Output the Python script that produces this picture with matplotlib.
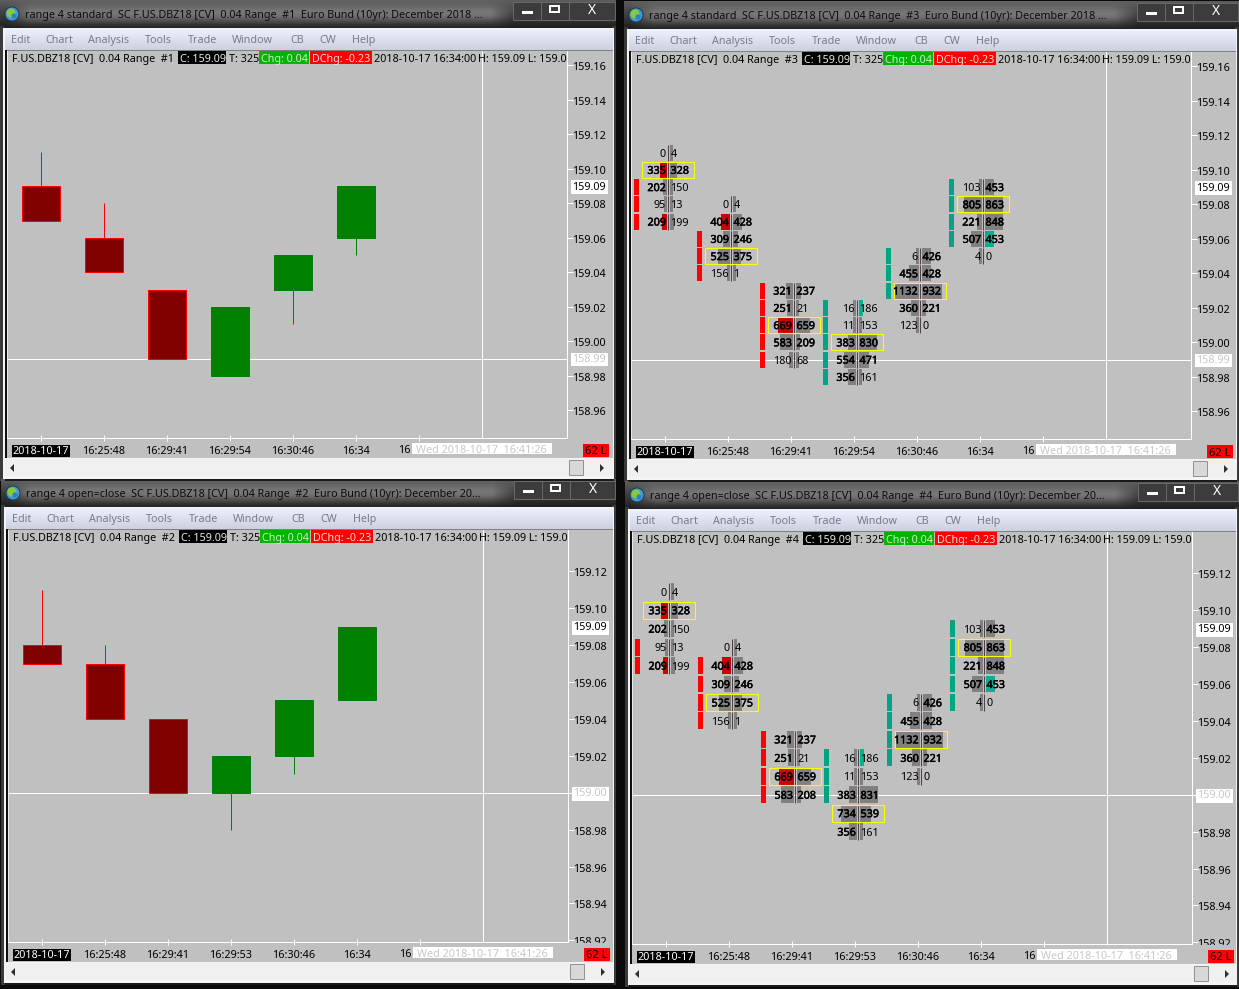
#!/usr/bin/python
# four Sierra Chart windows: range bars on the left, footprint bars on the right
import numpy as np
import matplotlib
matplotlib.use('Agg')
import matplotlib.pyplot as plt
from matplotlib.patches import Rectangle, Circle
from matplotlib.transforms import ScaledTranslation
import matplotlib.patheffects as pe

W, H = 1239, 989
FONT = 'Noto Sans'
FS = 7.75

# OHLC of the 6 range bars, "standard" and "open=close" versions
std_open = [159.09, 159.06, 159.03, 158.98, 159.03, 159.06]
std_high = [159.11, 159.08, 159.03, 159.02, 159.05, 159.09]
std_low = [159.07, 159.04, 158.99, 158.98, 159.01, 159.05]
std_close = [159.07, 159.04, 158.99, 159.02, 159.05, 159.09]

oc_open = [159.08, 159.07, 159.04, 159.00, 159.02, 159.05]
oc_high = [159.11, 159.08, 159.04, 159.02, 159.05, 159.09]
oc_low = [159.07, 159.04, 159.00, 158.98, 159.01, 159.05]
oc_close = [159.07, 159.04, 159.00, 159.02, 159.05, 159.09]

# footprint rows per bar, standard window
std_prices = [[159.11, 159.10, 159.09, 159.08, 159.07],
              [159.08, 159.07, 159.06, 159.05, 159.04],
              [159.03, 159.02, 159.01, 159.00, 158.99],
              [159.02, 159.01, 159.00, 158.99, 158.98],
              [159.05, 159.04, 159.03, 159.02, 159.01],
              [159.09, 159.08, 159.07, 159.06, 159.05]]
std_bid = [[0, 335, 202, 95, 209],
           [0, 404, 309, 525, 156],
           [321, 251, 669, 583, 180],
           [16, 11, 383, 554, 356],
           [6, 455, 1132, 360, 123],
           [103, 805, 221, 507, 4]]
std_ask = [[4, 328, 150, 13, 199],
           [4, 428, 246, 375, 1],
           [237, 21, 659, 209, 68],
           [186, 153, 830, 471, 161],
           [426, 428, 932, 221, 0],
           [453, 863, 848, 453, 0]]

# footprint rows per bar, open=close window
oc_prices = [[159.11, 159.10, 159.09, 159.08, 159.07],
             [159.08, 159.07, 159.06, 159.05, 159.04],
             [159.03, 159.02, 159.01, 159.00],
             [159.02, 159.01, 159.00, 158.99, 158.98],
             [159.05, 159.04, 159.03, 159.02, 159.01],
             [159.09, 159.08, 159.07, 159.06, 159.05]]
oc_bid = [[0, 335, 202, 95, 209],
          [0, 404, 309, 525, 156],
          [321, 251, 669, 583],
          [16, 11, 383, 734, 356],
          [6, 455, 1132, 360, 123],
          [103, 805, 221, 507, 4]]
oc_ask = [[4, 328, 150, 13, 199],
          [4, 428, 246, 375, 1],
          [237, 21, 659, 208],
          [186, 153, 831, 539, 161],
          [426, 428, 932, 221, 0],
          [453, 863, 848, 453, 0]]

# coloured volume cells (bar, row)
red_bid_cells = [(0, 1), (0, 4), (1, 1), (2, 2)]
teal_ask_cells = [(3, 0), (5, 3)]

time_labels = ['2018-10-17', '16:25:48', '16:29:41', '16:29:54', '16:30:46', '16:34']
time_labels_oc = ['2018-10-17', '16:25:48', '16:29:41', '16:29:53', '16:30:46', '16:34']
menu_items = ['Edit', 'Chart', 'Analysis', 'Tools', 'Trade', 'Window', 'CB', 'CW', 'Help']
menu_x = [4, 38, 81, 138, 181, 225, 283, 312, 345]

SILVER = '#c0c0c0'
BAR_STEP = 63.0
BOLD_FROM = 200
PX_PER_VOL = 0.022
# sierra's heavy numbers keep the regular width, so thicken instead of using a bold face
HEAVY = [pe.withStroke(linewidth=0.35, foreground='black')]


def txt(ax, x, y, s, **kw):
    kw.setdefault('fontsize', FS)
    kw.setdefault('family', FONT)
    kw.setdefault('va', 'baseline')
    kw.setdefault('color', 'black')
    # y is the row centre in pixels, baseline sits 4 px under it
    if kw['va'] == 'baseline':
        y = y + 4
    return ax.text(x, y, s, **kw)


def box(ax, x0, y0, x1, y1, color, **kw):
    kw.setdefault('lw', 0)
    r = Rectangle((x0, y0), x1 - x0, y1 - y0, facecolor=color, **kw)
    ax.add_patch(r)
    return r


def draw_chrome(bg, left, top, right, y1, title):
    # title bar with the pale glow behind the text
    rows = np.linspace(0.36, 0.12, 28)[:, None]
    cols = np.arange(left, right)[None, :]
    glow = np.clip((cols - left - 5) / 25.0, 0, 1) * np.clip((left + 515 - cols) / 25.0, 0, 1)
    band = np.exp(-((np.arange(28) - 14) / 9.0) ** 2)[:, None]
    shade = rows + 0.22 * glow * band
    bg.imshow(shade, cmap='gray', vmin=0, vmax=1, extent=(left, right, top + 28, top), aspect='auto', zorder=1)

    # frame and client area
    box(bg, left, top + 26, left + 4, y1 + 43, '#3a3a3a', zorder=1)
    box(bg, right - 4, top + 26, right, y1 + 43, '#3a3a3a', zorder=1)
    box(bg, left + 3, top + 28, right - 2, y1 + 41, '#f4f4f4', zorder=2)
    box(bg, left + 5, y1 + 41, right - 2, y1 + 43, '#1a1a1a', zorder=2)

    # menu band
    grad = np.linspace(0.95, 0.83, 21)[:, None]
    tint = np.dstack([grad * 0.97, grad * 0.985, grad * 1.05]).clip(0, 1)
    bg.imshow(tint, extent=(left + 5, right - 3, top + 50, top + 29), aspect='auto', zorder=3)
    for x, s in zip(menu_x, menu_items):
        txt(bg, left + 7 + x, top + 39, s, color='#7b7b88', zorder=4)

    # title text, icon, buttons
    txt(bg, left + 25, top + 14, title, color='#0c0c0c', zorder=4, clip_on=True)
    bg.add_patch(Circle((left + 12, top + 14), 7, fc='#3f9bd8', ec='#18304a', lw=0.6, zorder=4))
    bg.add_patch(Circle((left + 11, top + 13), 4.5, fc='#86c83e', lw=0, zorder=5))
    bg.add_patch(Circle((left + 14, top + 16), 2.6, fc='#2f7fc0', lw=0, zorder=5))

    bx = left + 513
    by0, by1 = top + 2, top + 20
    box(bg, bx, by0, right - 1, by1, '#3c3c3c', ec='#6a6a6a', lw=0.7, zorder=4)
    for xs in (bx + 28, bx + 56):
        bg.plot([xs, xs], [by0, by1], color='#6a6a6a', lw=0.7, zorder=5)
    box(bg, bx + 9, top + 11, bx + 20, top + 14, 'white', zorder=6)
    box(bg, bx + 36, top + 5, bx + 47, top + 13, 'white', zorder=6)
    box(bg, bx + 38, top + 7, bx + 45, top + 11, '#3c3c3c', zorder=6)
    txt(bg, bx + 79, top + 10, 'X', color='white', fontsize=10, fontweight='bold', ha='center', zorder=6)


def draw_scrollbar(bg, left, top, x0, right, y1):
    # silver area right of and below the chart, then the scroll bar
    box(bg, x0 - 2, y1, right - 3, y1 + 20, SILVER, zorder=3)
    box(bg, x0 + 560, top + 50, right - 3, y1 + 1, SILVER, zorder=3)
    box(bg, x0 + 560, top + 50, right - 3, top + 51, '#808080', zorder=3)
    box(bg, x0 - 2, top + 50, x0, y1 + 20, '#101010', zorder=3)
    box(bg, left + 5, y1 + 21, right - 3, y1 + 38, '#f0f0f0', zorder=3)
    box(bg, x0 + 562, y1 + 22, x0 + 576, y1 + 37, '#d8d8d8', ec='#909090', lw=0.7, zorder=4)
    bg.fill([x0 + 7, x0 + 3, x0 + 7], [y1 + 26, y1 + 30, y1 + 34], color='#303030', lw=0, zorder=4)
    bg.fill([x0 + 593, x0 + 597, x0 + 593], [y1 + 26, y1 + 30, y1 + 34], color='#303030', lw=0, zorder=4)


def draw_candles(ax, o, h, l, c):
    for i in range(len(o)):
        up = c[i] > o[i]
        edge = '#008000' if up else '#ff0000'
        fill = '#008000' if up else '#800000'
        ax.vlines(i, l[i], h[i], color=edge, lw=0.72, zorder=2)
        ax.bar(i, abs(c[i] - o[i]), bottom=min(o[i], c[i]), width=38 / BAR_STEP,
               facecolor=fill, edgecolor=edge, lw=0.72, zorder=3)


def draw_footprint(ax, prices, bid, ask, o, c, row_h):
    px = 1 / BAR_STEP
    for i in range(len(prices)):
        sep = i + 3 * px
        totals = np.array(bid[i]) + np.array(ask[i])
        poc = int(np.argmax(totals))
        lo, hi = min(o[i], c[i]), max(o[i], c[i])
        for j, price in enumerate(prices[i]):
            b, a = bid[i][j], ask[i][j]
            y = price - row_h / 2
            # open-close strip at the left of the bar
            if lo <= price <= hi:
                strip = '#ff0000' if c[i] < o[i] else '#00a383'
                ax.add_patch(Rectangle((sep - 34 * px, y), 5 * px, row_h, fc=strip, lw=0, zorder=2))
            # volume cells either side of the separator
            if b > 0:
                wb = max(3, b * PX_PER_VOL) * px
                col = '#cc0000' if (i, j) in red_bid_cells else '#808080'
                ax.add_patch(Rectangle((sep - 1 * px - wb, y), wb, row_h, fc=col, lw=0, zorder=2))
            if a > 0:
                wa = max(3, a * PX_PER_VOL) * px
                col = '#00b090' if (i, j) in teal_ask_cells else '#808080'
                ax.add_patch(Rectangle((sep + 1.5 * px, y), wa, row_h, fc=col, lw=0, zorder=2))
            ax.vlines(sep, y, y + row_h, color='#504050', lw=0.72, zorder=3)
            t = txt(ax, sep - 2 * px, price, str(b), ha='right', va='center_baseline', zorder=5)
            if b >= BOLD_FROM:
                t.set_path_effects(HEAVY)
            t = txt(ax, sep + 2.5 * px, price, str(a), ha='left', va='center_baseline', zorder=5)
            if a >= BOLD_FROM:
                t.set_path_effects(HEAVY)
            if j == poc:
                ax.add_patch(Rectangle((sep - 26 * px, y), 52 * px, row_h, fc='none', ec='#ffff00',
                                       lw=0.8, zorder=4))


def draw_status(over, x0, y, tag):
    txt(over, x0 + 5, y, 'F.US.DBZ18 [CV]  0.04 Range  ' + tag)
    box(over, x0 + 171, y - 7, x0 + 219, y + 6, 'black')
    txt(over, x0 + 173, y, 'C: 159.09', color='#e8e8e8')
    txt(over, x0 + 222, y, 'T: 325')
    box(over, x0 + 252, y - 7, x0 + 302, y + 6, '#00b400')
    txt(over, x0 + 254, y, 'Chg: 0.04', color='#c8f0c8')
    box(over, x0 + 303, y - 7, x0 + 365, y + 6, '#ff0000')
    txt(over, x0 + 305, y, 'DChg: -0.23', color='#ffd8d8')
    txt(over, x0 + 367, y, '2018-10-17 16:34:00')
    txt(over, x0 + 471, y, 'H: 159.09 L: 159.0')


def draw_window(fig, bg, over, left, top, right, x0, y1, ref_y, ref_price, ppu, yticks, times, title, tag, cross_price):
    y0 = top + 50
    x1 = x0 + 560
    draw_chrome(bg, left, top, right, y1, title)
    draw_scrollbar(bg, left, top, x0, right, y1)

    ax = fig.add_axes([x0 / W, 1 - y1 / H, (x1 - x0) / W, (y1 - y0) / H], zorder=2)
    ax.set_facecolor(SILVER)
    ax.set_xlim((x0 - (x0 + 34)) / BAR_STEP, (x1 - (x0 + 34)) / BAR_STEP)
    ax.set_ylim(ref_price - (y1 - ref_y) / ppu, ref_price + (ref_y - y0) / ppu)

    ax.spines['top'].set_color('#808080')
    ax.spines['left'].set_color('#e8e8e8')
    ax.spines['right'].set_color('white')
    ax.spines['bottom'].set_color('white')
    for s in ax.spines.values():
        s.set_linewidth(0.72)

    ax.yaxis.tick_right()
    ax.set_yticks(yticks)
    ax.set_yticklabels(['%.2f' % t for t in yticks], family=FONT, fontsize=FS)
    ax.tick_params(axis='y', direction='out', length=4, width=0.72, color='white', pad=-0.5, labelcolor='black')
    ax.set_xticks(range(7))
    ax.set_xticklabels(times + [''], family=FONT, fontsize=FS)
    ax.tick_params(axis='x', direction='inout', length=5, width=0.72, color='white', pad=3, labelcolor='black')
    date_label = ax.get_xticklabels()[0]
    date_label.set_color('white')
    date_label.set_bbox(dict(fc='black', ec='none', pad=0.5))
    # labels sit a pixel under their tick, bottom one is cut by the time scale
    clip = Rectangle((x1 / W, 1 - (y1 + 1) / H), 50 / W, (y1 - y0) / H, transform=fig.transFigure)
    down = ScaledTranslation(0, -0.01, fig.dpi_scale_trans)
    for lab in ax.get_yticklabels():
        lab.set_transform(lab.get_transform() + down)
        lab.set_clip_path(clip)
        lab.set_clip_on(True)

    # crosshair one bar past the last ones
    ax.axvline(7, color='white', lw=0.72, zorder=1)
    ax.axhline(cross_price, color='white', lw=0.72, zorder=1)

    # scale labels for last price and crosshair price
    trans = ax.get_yaxis_transform()
    xl = 1 + 5.5 / 560
    txt(ax, xl, 159.09, '159.09', transform=trans + down, clip_on=False, zorder=6, va='center',
        bbox=dict(fc='white', ec='none', pad=1))
    txt(ax, xl, cross_price, '%.2f' % cross_price, color='#c8c8c8', transform=trans + down, clip_on=False,
        zorder=6, va='center', bbox=dict(fc='white', ec='none', pad=1))

    # status line, tooltip, server label
    draw_status(over, x0, top + 58, tag)
    txt(over, x0 + 391, y1 + 11, '16')
    box(over, x0 + 405, y1 + 5, x0 + 545, y1 + 16, 'white')
    txt(over, x0 + 409, y1 + 11, 'Wed 2018-10-17  16:41:26', color='#c8c8c8')
    box(over, x0 + 576, y1 + 6, x0 + 602, y1 + 19, '#ff0000')
    txt(over, x0 + 589, y1 + 12.5, '62 L', ha='center', fontsize=FS + 0.3)
    return ax


fig = plt.figure(figsize=(W / 100, H / 100), dpi=100, facecolor='#0a0a0a')

bg = fig.add_axes([0, 0, 1, 1], zorder=0)
bg.set_axis_off()
over = fig.add_axes([0, 0, 1, 1], zorder=3)
over.set_axis_off()
over.patch.set_alpha(0)

ticks_std = [159.16, 159.14, 159.12, 159.10, 159.08, 159.06, 159.04, 159.02, 159.00, 158.98, 158.96]
ticks_oc = [159.12, 159.10, 159.08, 159.06, 159.04, 159.02, 159.00, 158.98, 158.96, 158.94, 158.92]

title_std = 'range 4 standard  SC F.US.DBZ18 [CV]  0.04 Range  %s  Euro Bund (10yr): December 2018 ...'
title_oc = 'range 4 open=close  SC F.US.DBZ18 [CV]  0.04 Range  %s  Euro Bund (10yr): December 20...'

ax1 = draw_window(fig, bg, over, 0, 0, 616, 7, 438, 65.3, 159.16, 1725, ticks_std, time_labels,
                  title_std % '#1', '#1', 158.99)
draw_candles(ax1, std_open, std_high, std_low, std_close)

ax2 = draw_window(fig, bg, over, 624, 1, 1239, 631, 439, 66.3, 159.16, 1725, ticks_std, time_labels,
                  title_std % '#3', '#3', 158.99)
draw_footprint(ax2, std_prices, std_bid, std_ask, std_open, std_close, 0.0093)

ax3 = draw_window(fig, bg, over, 1, 479, 616, 8, 942, 571.3, 159.12, 1845, ticks_oc, time_labels_oc,
                  title_oc % '#2', '#2', 159.00)
draw_candles(ax3, oc_open, oc_high, oc_low, oc_close)

ax4 = draw_window(fig, bg, over, 625, 481, 1239, 632, 944, 573.3, 159.12, 1845, ticks_oc, time_labels_oc,
                  title_oc % '#4', '#4', 159.00)
draw_footprint(ax4, oc_prices, oc_bid, oc_ask, oc_open, oc_close, 0.0092)

for a in (bg, over):
    a.set_xlim(0, W)
    a.set_ylim(H, 0)

fig.savefig('out.png', dpi=100, facecolor=fig.get_facecolor())
